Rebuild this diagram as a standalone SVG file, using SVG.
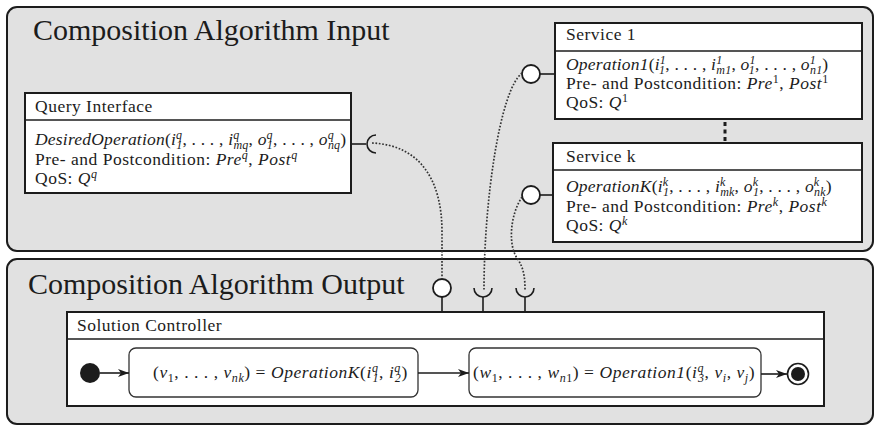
<svg xmlns="http://www.w3.org/2000/svg" width="876" height="426" viewBox="0 0 876 426">
<style>
.panel{fill:#e1e1e1;stroke:#1c1c1c;stroke-width:2}
.box{fill:#fff;stroke:#1c1c1c;stroke-width:2}
.div{stroke:#1c1c1c;stroke-width:1.6}
.ln{stroke:#1c1c1c;stroke-width:1.6;fill:none}
text{font-family:'Liberation Serif','Times New Roman',serif;fill:#1c1c1c}
.title{font-size:30px}
.body{font-size:17.5px;letter-spacing:0.5px}
.op{letter-spacing:0.2px}
.st{letter-spacing:0.55px}
.it{font-style:italic}
.s{font-size:12px;font-style:italic}
.dot{fill:none;stroke:#333;stroke-width:1.7;stroke-dasharray:1.7 1.7}
.port{fill:#fff;stroke:#1c1c1c;stroke-width:1.8}
</style>
<defs>
<marker id="ah" markerUnits="userSpaceOnUse" markerWidth="12" markerHeight="8" refX="11" refY="4" orient="auto">
<path d="M0,0 L11,4 L0,8 L3,4 z" fill="#1c1c1c"/>
</marker>
</defs>

<g id="input-panel">
<rect class="panel" x="7" y="7" width="866" height="244" rx="10"/>
<text class="title" x="33" y="40">Composition Algorithm Input</text>
</g>

<g id="output-panel">
<rect class="panel" x="7" y="259" width="866" height="165" rx="10"/>
<text class="title" x="28" y="294">Composition Algorithm Output</text>
</g>

<g id="query-interface">
<rect class="box" x="25" y="93" width="326" height="100"/>
<line class="div" x1="25" y1="120" x2="351" y2="120"/>
<text class="body" x="35" y="112">Query Interface</text>
<text class="body op" x="35" y="145"><tspan class="it">DesiredOperation</tspan>(<tspan class="it">i</tspan><tspan class="s" dy="-6">q</tspan><tspan class="s" dx="-6" dy="10">1</tspan><tspan dy="-4">, . . . , </tspan><tspan class="it">i</tspan><tspan class="s" dy="-6">q</tspan><tspan class="s" dx="-6" dy="10">mq</tspan><tspan dy="-4">, </tspan><tspan class="it">o</tspan><tspan class="s" dy="-6">q</tspan><tspan class="s" dx="-6" dy="10">1</tspan><tspan dy="-4">, . . . , </tspan><tspan class="it">o</tspan><tspan class="s" dy="-6">q</tspan><tspan class="s" dx="-6" dy="10">nq</tspan><tspan dy="-4">)</tspan></text>
<text class="body" x="35" y="165">Pre- and Postcondition: <tspan class="it">Pre</tspan><tspan class="s" dy="-6">q</tspan><tspan dy="6">, </tspan><tspan class="it">Post</tspan><tspan class="s" dy="-6">q</tspan></text>
<text class="body" x="35" y="184">QoS: <tspan class="it">Q</tspan><tspan class="s" dy="-6">q</tspan></text>
</g>

<g id="service-1">
<rect class="box" x="555" y="23" width="307" height="96"/>
<line class="div" x1="555" y1="51" x2="862" y2="51"/>
<text class="body" x="566" y="40">Service 1</text>
<text class="body op" x="566" y="70"><tspan class="it">Operation1</tspan>(<tspan class="it">i</tspan><tspan class="s" dy="-6">1</tspan><tspan class="s" dx="-6" dy="10">1</tspan><tspan dy="-4">, . . . , </tspan><tspan class="it">i</tspan><tspan class="s" dy="-6">1</tspan><tspan class="s" dx="-6" dy="10">m1</tspan><tspan dy="-4">, </tspan><tspan class="it">o</tspan><tspan class="s" dy="-6">1</tspan><tspan class="s" dx="-6" dy="10">1</tspan><tspan dy="-4">, . . . , </tspan><tspan class="it">o</tspan><tspan class="s" dy="-6">1</tspan><tspan class="s" dx="-6" dy="10">n1</tspan><tspan dy="-4">)</tspan></text>
<text class="body" x="566" y="89">Pre- and Postcondition: <tspan class="it">Pre</tspan><tspan class="s" style="font-style:normal" dy="-6">1</tspan><tspan dy="6">, </tspan><tspan class="it">Post</tspan><tspan class="s" style="font-style:normal" dy="-6">1</tspan></text>
<text class="body" x="566" y="108">QoS: <tspan class="it">Q</tspan><tspan class="s" style="font-style:normal" dy="-6">1</tspan></text>
</g>

<g id="service-k">
<rect class="box" x="553" y="143" width="309" height="99"/>
<line class="div" x1="553" y1="170" x2="862" y2="170"/>
<text class="body" x="566" y="162">Service k</text>
<text class="body op" x="566" y="192"><tspan class="it">OperationK</tspan>(<tspan class="it">i</tspan><tspan class="s" dy="-6">k</tspan><tspan class="s" dx="-5.3" dy="10">1</tspan><tspan dy="-4">, . . . , </tspan><tspan class="it">i</tspan><tspan class="s" dy="-6">k</tspan><tspan class="s" dx="-5.3" dy="10">mk</tspan><tspan dy="-4">, </tspan><tspan class="it">o</tspan><tspan class="s" dy="-6">k</tspan><tspan class="s" dx="-5.3" dy="10">1</tspan><tspan dy="-4">, . . . , </tspan><tspan class="it">o</tspan><tspan class="s" dy="-6">k</tspan><tspan class="s" dx="-5.3" dy="10">nk</tspan><tspan dy="-4">)</tspan></text>
<text class="body" x="566" y="212">Pre- and Postcondition: <tspan class="it">Pre</tspan><tspan class="s" dy="-6">k</tspan><tspan dy="6">, </tspan><tspan class="it">Post</tspan><tspan class="s" dy="-6">k</tspan></text>
<text class="body" x="566" y="231">QoS: <tspan class="it">Q</tspan><tspan class="s" dy="-6">k</tspan></text>
</g>

<g id="services-ellipsis">
<line x1="725" y1="122" x2="725" y2="143" stroke="#1c1c1c" stroke-width="3" stroke-dasharray="4 3.5"/>
</g>

<g id="solution-controller">
<rect class="box" x="67" y="312" width="757" height="94"/>
<line class="div" x1="67" y1="339" x2="824" y2="339"/>
<text class="body" x="77" y="331">Solution Controller</text>
</g>

<g id="initial">
<circle cx="90" cy="373" r="10" fill="#1c1c1c"/>
</g>

<g id="state-1">
<rect x="129" y="348" width="289" height="49" rx="7" fill="#fff" stroke="#333" stroke-width="1.3"/>
<text class="body st" x="153" y="378">(<tspan class="it">v</tspan><tspan class="s" style="font-style:normal" dy="4">1</tspan><tspan dy="-4">, . . . , </tspan><tspan class="it">v</tspan><tspan class="s" dy="4">nk</tspan><tspan dy="-4">) = </tspan><tspan class="it">OperationK</tspan>(<tspan class="it">i</tspan><tspan class="s" dy="-6">q</tspan><tspan class="s" dx="-6" dy="10">1</tspan><tspan dy="-4">, </tspan><tspan class="it">i</tspan><tspan class="s" dy="-6">q</tspan><tspan class="s" dx="-6" dy="10">2</tspan><tspan dy="-4">)</tspan></text>
</g>

<g id="state-2">
<rect x="469" y="348" width="292" height="49" rx="7" fill="#fff" stroke="#333" stroke-width="1.3"/>
<text class="body st" x="473" y="378">(<tspan class="it">w</tspan><tspan class="s" style="font-style:normal" dy="4">1</tspan><tspan dy="-4">, . . . , </tspan><tspan class="it">w</tspan><tspan class="s" dy="4">n</tspan><tspan class="s" style="font-style:normal">1</tspan><tspan dy="-4">) = </tspan><tspan class="it">Operation1</tspan>(<tspan class="it">i</tspan><tspan class="s" dy="-6">q</tspan><tspan class="s" dx="-6" dy="10">3</tspan><tspan dy="-4">, </tspan><tspan class="it">v</tspan><tspan class="s" dy="4">i</tspan><tspan dy="-4">, </tspan><tspan class="it">v</tspan><tspan class="s" dy="4">j</tspan><tspan dy="-4">)</tspan></text>
</g>

<g id="final">
<circle cx="798" cy="374" r="10.5" fill="#fff" stroke="#1c1c1c" stroke-width="1.6"/>
<circle cx="798" cy="374" r="7" fill="#1c1c1c"/>
</g>

<g id="connectors">
<line class="ln" x1="100" y1="373" x2="129" y2="373" marker-end="url(#ah)"/>
<line class="ln" x1="418" y1="373" x2="469" y2="373" marker-end="url(#ah)"/>
<line class="ln" x1="761" y1="374" x2="787" y2="374" marker-end="url(#ah)"/>
<line class="ln" x1="351" y1="144" x2="366" y2="144"/>
<path class="ln" d="M376,135 A9,9 0 0 0 376,153"/>
<line class="ln" x1="540" y1="74" x2="555" y2="74"/>
<circle class="port" cx="531" cy="74" r="9"/>
<line class="ln" x1="540" y1="195" x2="553" y2="195"/>
<circle class="port" cx="531" cy="195" r="9"/>
<line class="ln" x1="442" y1="297" x2="442" y2="312"/>
<circle class="port" cx="442" cy="288" r="9"/>
<line class="ln" x1="483" y1="297" x2="483" y2="312"/>
<path class="ln" d="M474,288 A9,9 0 0 0 492,288"/>
<line class="ln" x1="525" y1="297" x2="525" y2="312"/>
<path class="ln" d="M516,288 A9,9 0 0 0 534,288"/>
<path class="dot" d="M372,143 C420,145 442,180 442,232 L442,279"/>
<path class="dot" d="M522,73 C500,90 484,200 484,290"/>
<path class="dot" d="M522,197 C510,215 508,245 517,258 C524,268 525,278 525,290"/>
</g>
</svg>
